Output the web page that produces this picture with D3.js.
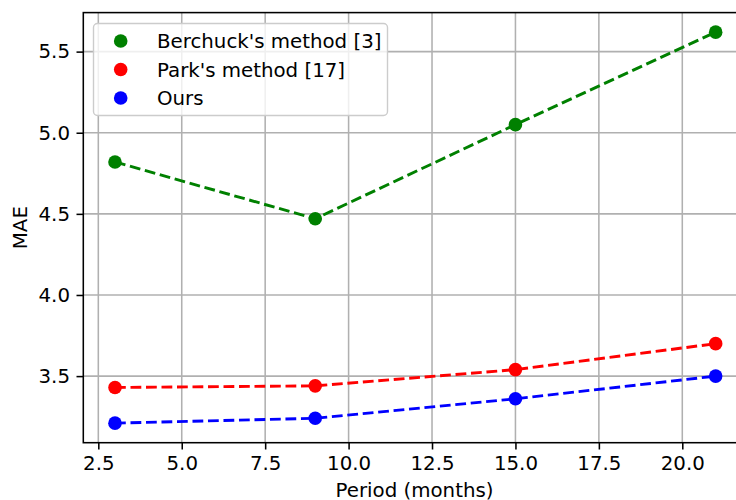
<!DOCTYPE html>
<html>
<head>
<meta charset="utf-8">
<script src="https://cdn.jsdelivr.net/npm/d3@7"></script>
<style>
  body { margin: 0; background: #fff; }
  svg { display: block; font-family: "DejaVu Sans", sans-serif; }
</style>
</head>
<body>
<div id="chart"></div>
<script>
// data
var periods = [3, 9, 15, 21];
var berchuck = [4.82, 4.47, 5.05, 5.62];
var park = [3.43, 3.44, 3.54, 3.70];
var ours = [3.21, 3.24, 3.36, 3.50];
var seriesNames = ["Berchuck's method [3]", "Park's method [17]", "Ours"];
var seriesColors = ["green", "red", "blue"];
var xTicks = [2.5, 5.0, 7.5, 10.0, 12.5, 15.0, 17.5, 20.0];
var yTicks = [3.5, 4.0, 4.5, 5.0, 5.5];

function makeChart() {
  var W = 736, H = 500;
  var left = 83.3, right = 745.7, top = 12.6, bottom = 442.7;
  var fontSize = 19.8;

  var svg = d3.select("#chart")
    .append("svg")
    .attr("width", W)
    .attr("height", H);

  var x = d3.scaleLinear()
    .domain([2.05, 21.9])
    .range([left, right]);
  var y = d3.scaleLinear()
    .domain([3.0895, 5.7405])
    .range([bottom, top]);

  // grid
  svg.append("g").selectAll("line").data(xTicks).join("line")
    .attr("x1", d => x(d)).attr("x2", d => x(d))
    .attr("y1", top).attr("y2", bottom)
    .attr("stroke", "#b0b0b0").attr("stroke-width", 1.55);
  svg.append("g").selectAll("line").data(yTicks).join("line")
    .attr("y1", d => y(d)).attr("y2", d => y(d))
    .attr("x1", left).attr("x2", right)
    .attr("stroke", "#b0b0b0").attr("stroke-width", 1.55);

  // axes
  var xAxis = svg.append("g")
    .attr("transform", "translate(0," + bottom + ")")
    .call(d3.axisBottom(x).tickValues(xTicks).tickFormat(d3.format(".1f"))
      .tickSize(6.8).tickPadding(6.5).tickSizeOuter(0));
  var yAxis = svg.append("g")
    .attr("transform", "translate(" + left + ",0)")
    .call(d3.axisLeft(y).tickValues(yTicks).tickFormat(d3.format(".1f"))
      .tickSize(6.8).tickPadding(6.5).tickSizeOuter(0));
  [xAxis, yAxis].forEach(function (g) {
    g.select(".domain").remove();
    g.selectAll(".tick line").attr("stroke", "#000").attr("stroke-width", 1.55);
    g.selectAll(".tick text")
      .attr("fill", "#000")
      .style("font-size", fontSize + "px")
      .style("font-family", "DejaVu Sans");
  });

  // spines
  svg.append("rect")
    .attr("x", left).attr("y", top)
    .attr("width", right - left).attr("height", bottom - top)
    .attr("fill", "none").attr("stroke", "#000").attr("stroke-width", 1.55);

  var all = [berchuck, park, ours];
  var line = d3.line()
    .x((d, i) => x(periods[i]))
    .y(d => y(d));

  all.forEach(function (vals, k) {
    svg.append("path")
      .datum(vals)
      .attr("fill", "none")
      .attr("stroke", seriesColors[k])
      .attr("stroke-width", 2.9)
      .attr("stroke-dasharray", "10.8,4.7")
      .attr("d", line);
  });
  all.forEach(function (vals, k) {
    svg.append("g").selectAll("circle").data(vals).join("circle")
      .attr("cx", (d, i) => x(periods[i]))
      .attr("cy", d => y(d))
      .attr("r", 6.8)
      .attr("fill", seriesColors[k]);
  });

  // axis labels
  svg.append("text")
    .attr("x", (left + right) / 2)
    .attr("y", 497)
    .attr("text-anchor", "middle")
    .style("font-size", fontSize + "px")
    .text("Period (months)");
  svg.append("text")
    .attr("transform", "translate(26.5," + ((top + bottom) / 2) + ") rotate(-90)")
    .attr("text-anchor", "middle")
    .style("font-size", fontSize + "px")
    .text("MAE");

  // legend
  var leg = svg.append("g");
  leg.append("rect")
    .attr("x", 93.5).attr("y", 23.5)
    .attr("width", 294).attr("height", 92)
    .attr("rx", 4)
    .attr("fill", "#fff").attr("fill-opacity", 0.8)
    .attr("stroke", "#cccccc").attr("stroke-width", 1.4);
  seriesNames.forEach(function (name, k) {
    var cy = 41 + k * 28.5;
    leg.append("circle")
      .attr("cx", 120.7).attr("cy", cy).attr("r", 6.8)
      .attr("fill", seriesColors[k]);
    leg.append("text")
      .attr("x", 157).attr("y", cy + 7)
      .style("font-size", fontSize + "px")
      .text(name);
  });
}

makeChart();
</script>
</body>
</html>
